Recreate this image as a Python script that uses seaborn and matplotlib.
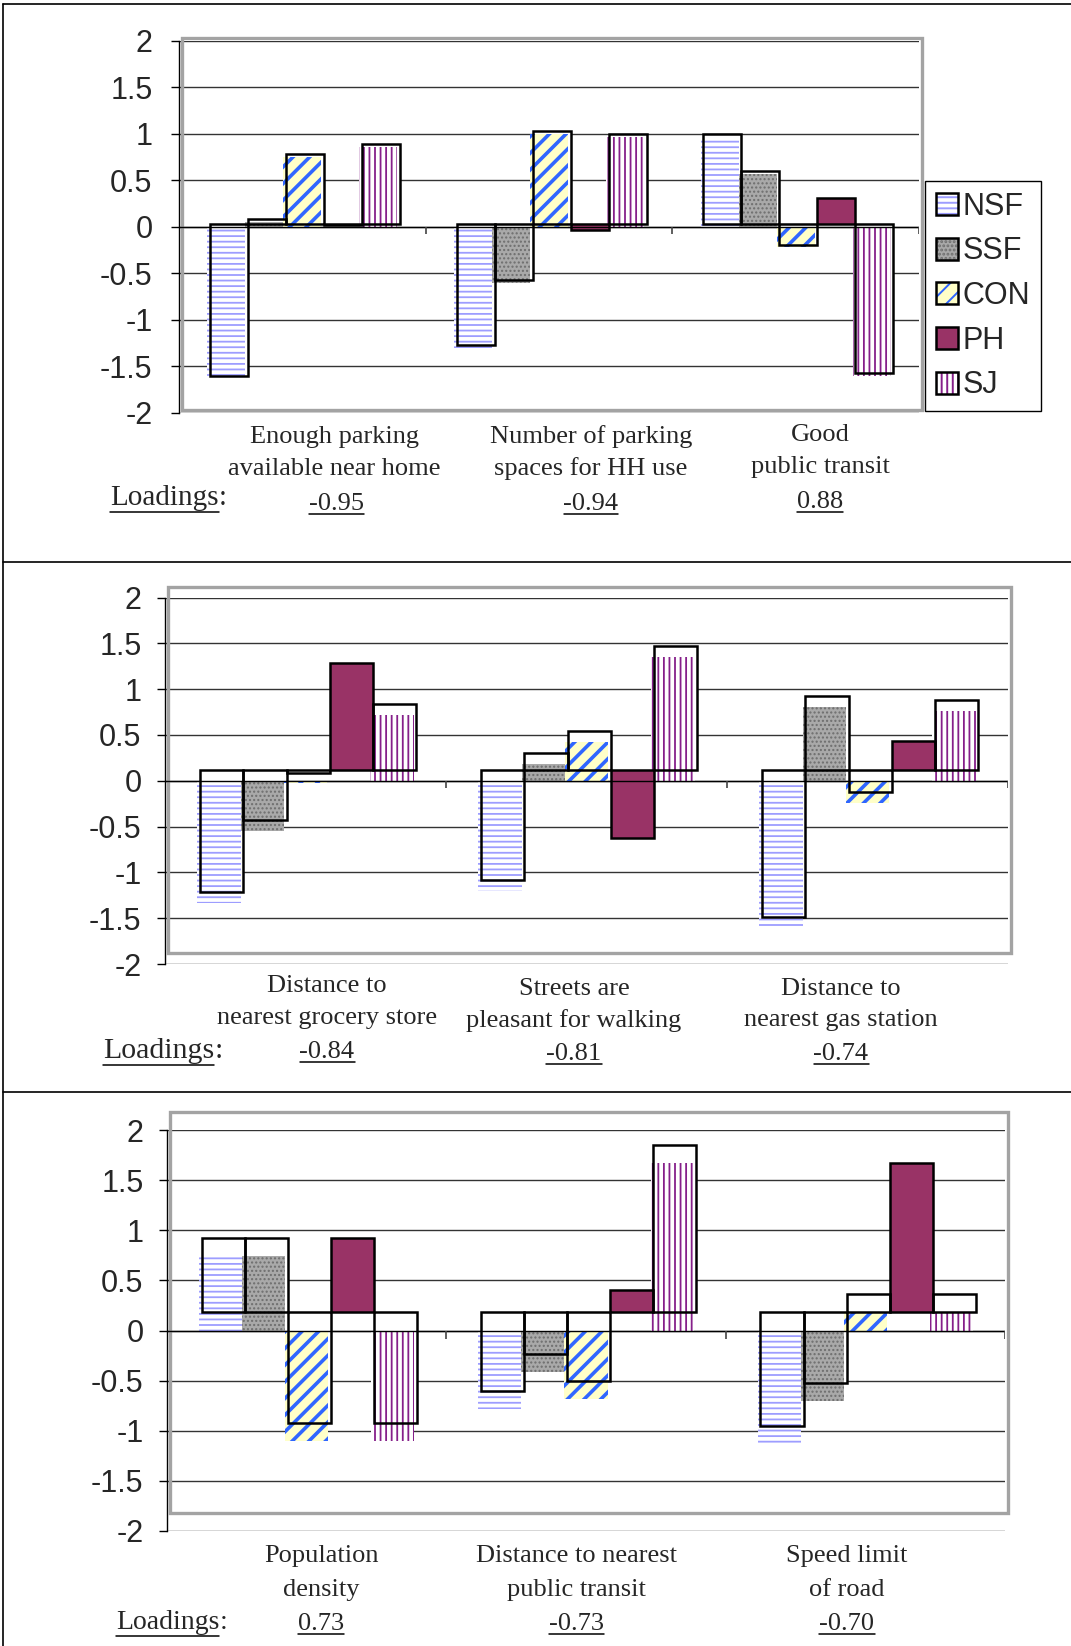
import numpy as np
import pandas as pd
import matplotlib
matplotlib.use("Agg")
import matplotlib.pyplot as plt
import seaborn as sns
from matplotlib.patches import Rectangle, Patch
from matplotlib.lines import Line2D
from matplotlib.legend_handler import HandlerTuple
from matplotlib.ticker import FuncFormatter

# ---------------- data ----------------
groups = ["NSF", "SSF", "CON", "PH", "SJ"]
y_ticks = [-2, -1.5, -1, -0.5, 0, 0.5, 1, 1.5, 2]

p1_items = ["Enough parking\navailable near home", "Number of parking\nspaces for HH use", "Good\npublic transit"]
p1_loadings = ["-0.95", "-0.94", "0.88"]
p1_nsf = [-1.63, -1.30, 0.97]
p1_ssf = [0.05, -0.60, 0.57]
p1_con = [0.75, 1.00, -0.22]
p1_ph = [-0.01, -0.06, 0.28]
p1_sj = [0.86, 0.97, -1.60]

p2_items = ["Distance to\nnearest grocery store", "Streets are\npleasant for walking", "Distance to\nnearest gas station"]
p2_loadings = ["-0.84", "-0.81", "-0.74"]
p2_nsf = [-1.33, -1.20, -1.61]
p2_ssf = [-0.55, 0.18, 0.81]
p2_con = [-0.03, 0.42, -0.24]
p2_ph = [1.17, -0.74, 0.31]
p2_sj = [0.72, 1.35, 0.76]

p3_items = ["Population\ndensity", "Distance to nearest\npublic transit", "Speed limit\nof road"]
p3_loadings = ["0.73", "-0.73", "-0.70"]
p3_nsf = [0.74, -0.78, -1.13]
p3_ssf = [0.74, -0.41, -0.70]
p3_con = [-1.10, -0.68, 0.18]
p3_ph = [0.74, 0.22, 1.49]
p3_sj = [-1.10, 1.67, 0.18]

# ---------------- style ----------------
sns.set_theme(style="white")
plt.rcParams["font.family"] = ["Liberation Sans", "DejaVu Sans"]
plt.rcParams["axes.unicode_minus"] = False

W, H = 1071, 1646
fig = plt.figure(figsize=(W / 100, H / 100), dpi=100)
fig.patch.set_facecolor("white")

STYLE = {
    "NSF": dict(face="white", hatch="---", hcolor="#9d9dff", hlw=1.3),
    "SSF": dict(face="#a9a9a9", hatch="....", hcolor="#6e6e6e", hlw=1.0),
    "CON": dict(face="#ffffc8", hatch="//", hcolor="#2f66ff", hlw=2.6),
    "PH": dict(face="#993366", hatch=None, hcolor="#993366", hlw=1.0),
    "SJ": dict(face="white", hatch="|||", hcolor="#86208a", hlw=1.3),
}
HAS_HLW = hasattr(Patch, "set_hatch_linewidth")
plt.rcParams["hatch.linewidth"] = 1.4


def fx(x):
    return x / W


def fy(y):
    return 1 - y / H


panels = [
    dict(items=p1_items, load=p1_loadings, vals=[p1_nsf, p1_ssf, p1_con, p1_ph, p1_sj],
         box=(179, 41, 919, 412.7), off=0.03, pad=13,
         cx=[334, 591, 820], l1=[443, 443, 441], l2=[475, 475, 473],
         lx=110, lb=505, lfs=21, nx=[336, 591, 820], nb=[510, 510, 508]),
    dict(items=p2_items, load=p2_loadings, vals=[p2_nsf, p2_ssf, p2_con, p2_ph, p2_sj],
         box=(165, 597.5, 1008, 964), off=0.12, pad=11,
         cx=[327, 574, 841], l1=[992, 995, 995], l2=[1024, 1027, 1026],
         lx=103, lb=1058, lfs=21.5, nx=[327, 574, 841], nb=[1058, 1060, 1060]),
    dict(items=p3_items, load=p3_loadings, vals=[p3_nsf, p3_ssf, p3_con, p3_ph, p3_sj],
         box=(167, 1130, 1005, 1531), off=0.18, pad=11,
         cx=[321, 576, 847], l1=[1562, 1562, 1562], l2=[1596, 1596, 1596],
         lx=116, lb=1629, lfs=20, nx=[321, 576, 847], nb=[1630, 1630, 1630]),
]

serif = ["Liberation Serif", "DejaVu Serif"]
CAT_FS = 19
under_jobs = []

for P in panels:
    l, t, r, b = P["box"]
    ax = fig.add_axes([fx(l), fy(b), (r - l) / W, (b - t) / H])
    items = P["items"]
    rows = []
    for g, vals in zip(groups, P["vals"]):
        for it, v in zip(items, vals):
            rows.append(dict(item=it, group=g, value=v))
    df = pd.DataFrame(rows)

    sns.barplot(data=df, x="item", y="value", hue="group", order=items, hue_order=groups,
                width=0.77, errorbar=None, legend=False, ax=ax, zorder=2,
                linewidth=0, saturation=1)

    cat_w = (r - l) / 3.0
    dx = 2.7 / cat_w
    off = P["off"]
    for cont, g, vals in zip(ax.containers, groups, P["vals"]):
        st = STYLE[g]
        for bar in cont:
            if g == "PH":
                bar.set_visible(False)
                continue
            bar.set_facecolor(st["face"])
            bar.set_edgecolor(st["hcolor"])
            bar.set_linewidth(0)
            bar.set_hatch(st["hatch"])
            if HAS_HLW:
                bar.set_hatch_linewidth(st["hlw"])
        xs = np.array([bar.get_x() for bar in cont]) + dx
        w = cont[0].get_width()
        face = st["face"] if g == "PH" else "white"
        ax.bar(xs, vals, width=w, bottom=off, align="edge", facecolor=face,
               edgecolor="none", linewidth=0, zorder=1 if g != "PH" else 2.2)
        ax.bar(xs, vals, width=w, bottom=off, align="edge", fill=False,
               edgecolor="black", linewidth=1.8, zorder=3)

    n = len(items)
    ax.set_xlim(-0.5, n - 0.5)
    ax.set_ylim(-2, 2)
    ax.set_yticks(y_ticks)
    ax.yaxis.set_major_formatter(FuncFormatter(lambda v, p: f"{v:g}"))
    ax.set_xticks([])
    ax.set_xlabel("")
    ax.set_ylabel("")
    ax.tick_params(axis="y", which="major", direction="out", length=6, width=1,
                   color="black", pad=P["pad"], labelsize=22, left=True)
    for lab in ax.get_yticklabels():
        lab.set_fontfamily(["Liberation Sans", "DejaVu Sans"])
    ax.grid(axis="y", color="#333333", linewidth=1.0, zorder=0.5)
    ax.set_axisbelow(True)
    for s in ["top", "right", "bottom"]:
        ax.spines[s].set_visible(False)
    ax.spines["left"].set_color("black")
    ax.spines["left"].set_linewidth(1.0)
    ax.axhline(0, color="black", linewidth=1.0, zorder=2.5)
    ax.vlines(np.arange(n) + 0.5, -0.08, 0, color="#444444", linewidth=1.2, zorder=2.5)
    ax.add_patch(Rectangle((-0.5 + dx, -2 + off), n, 4, transform=ax.transData,
                           fill=False, edgecolor="#a3a3a3", linewidth=2.4,
                           clip_on=False, zorder=0.8))

    # category labels
    for it, c, y1, y2 in zip(items, P["cx"], P["l1"], P["l2"]):
        a, bb = it.split("\n")
        fig.text(fx(c), fy(y1), a, ha="center", va="baseline", fontsize=CAT_FS, family=serif)
        fig.text(fx(c), fy(y2), bb, ha="center", va="baseline", fontsize=CAT_FS, family=serif)
    tl = fig.text(fx(P["lx"]), fy(P["lb"]), "Loadings", ha="left", va="baseline",
                  fontsize=P["lfs"], family=serif)
    under_jobs.append((tl, P["lb"] + 7, P["lfs"]))
    for s, c, yb in zip(P["load"], P["nx"], P["nb"]):
        tn = fig.text(fx(c), fy(yb), s, ha="center", va="baseline", fontsize=CAT_FS, family=serif)
        under_jobs.append((tn, yb + 4, None))

# legend
handles = []
for g in groups:
    st = STYLE[g]
    pf = Patch(facecolor=st["face"], edgecolor=st["hcolor"], hatch=st["hatch"], linewidth=0)
    pe = Patch(facecolor="none", edgecolor="black", linewidth=1.8)
    handles.append((pf, pe))
leg = fig.legend(handles, groups, handler_map={tuple: HandlerTuple(ndivide=1, pad=0)},
                 loc="upper left", bbox_to_anchor=(fx(925), fy(181)), borderaxespad=0,
                 frameon=True, fancybox=False, edgecolor="black", framealpha=1,
                 fontsize=22, handlelength=0.72, handleheight=0.72, handletextpad=0.15,
                 labelspacing=0.48, borderpad=0.35)
leg.get_frame().set_linewidth(1.0)

# outer frame lines
for seg in [((3, 4), (3, H)), ((3, 4), (W, 4)), ((3, 562), (W, 562)), ((3, 1092), (W, 1092))]:
    (x0, y0), (x1, y1) = seg
    fig.add_artist(Line2D([fx(x0), fx(x1)], [fy(y0), fy(y1)], color="black", linewidth=1.2,
                          transform=fig.transFigure))

# underlines and colon
fig.canvas.draw()
rend = fig.canvas.get_renderer()
for txt, yu, colon_fs in under_jobs:
    bb = txt.get_window_extent(rend)
    x0, x1 = bb.x0, bb.x1
    fig.add_artist(Line2D([x0 / W, x1 / W], [fy(yu), fy(yu)], color="black", linewidth=1.1,
                          transform=fig.transFigure))
    if colon_fs:
        x_t, y_t = txt.get_position()
        fig.text(x1 / W, y_t, ":", ha="left", va="baseline", fontsize=colon_fs, family=serif)

fig.savefig("out.png", dpi=100, facecolor="white")
